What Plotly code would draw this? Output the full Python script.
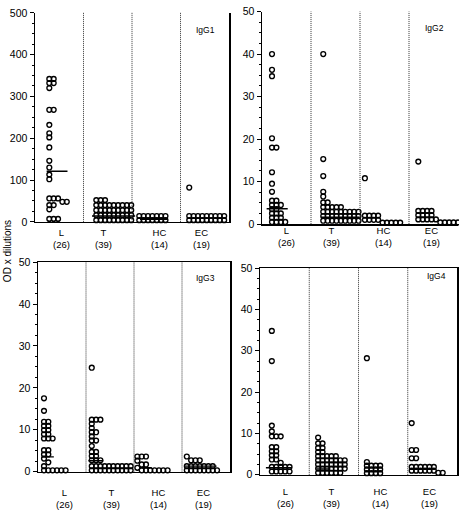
import plotly.graph_objects as go

# ---------------- data ----------------
GROUPS = ["L", "T", "HC", "EC"]
COUNTS = ["(26)", "(39)", "(14)", "(19)"]
PANELS = ["IgG1", "IgG2", "IgG3", "IgG4"]
Y_MAX = [500, 50, 50, 50]
Y_DTICK = [100, 10, 10, 10]

IGG1_L = [342, 342, 332, 332, 320, 268, 268, 232, 212, 202, 178, 146, 130, 113, 102,
          56, 56, 56, 48, 48, 40, 40, 30, 7, 7, 7]
IGG1_T = [52, 52, 52,
          40, 40, 40, 40, 40, 40, 40, 40, 40,
          28, 28, 28, 28, 28, 28, 28, 28, 28,
          16, 16, 16, 16, 16, 16, 16, 16, 16,
          4, 4, 4, 4, 4, 4, 4, 4, 4]
IGG1_HC = [14, 14, 14, 14, 14, 14, 14, 4, 4, 4, 4, 4, 4, 4]
IGG1_EC = [82, 14, 14, 14, 14, 14, 14, 14, 14, 14, 4, 4, 4, 4, 4, 4, 4, 4, 4]
IGG1_MED = [121, 14, 6, None]

IGG2_L = [40, 36.3, 34.8, 20.2, 18, 18, 12.2, 9.5, 7.6, 5.5, 5.5, 4.5, 4.5, 4.5,
          3.5, 3.5, 2.5, 2.5, 2.5, 1.5, 1.5, 1.5, 0.5, 0.5, 0.5, 0.5]
IGG2_T = [40, 15.3, 11.3, 7.6, 6.5, 5.1, 5.1, 4.0, 4.0, 4.0, 4.0, 4.0,
          2.9, 2.9, 2.9, 2.9, 2.9, 2.9, 2.9, 2.9, 2.9,
          1.9, 1.9, 1.9, 1.9, 1.9, 1.9, 1.9, 1.9, 1.9,
          0.8, 0.8, 0.8, 0.8, 0.8, 0.8, 0.8, 0.8, 0.8]
IGG2_HC = [10.8, 2.0, 2.0, 2.0, 2.0, 1.0, 1.0, 1.0, 1.0, 0.35, 0.35, 0.35, 0.35, 0.35]
IGG2_EC = [14.7, 3.1, 3.1, 3.1, 3.1, 2.1, 2.1, 2.1, 2.1, 1.1, 1.1, 1.1, 1.1, 1.1,
           0.4, 0.4, 0.4, 0.4, 0.4]
IGG2_MED = [3.6, 1.6, None, None]

IGG3_L = [17.5, 14.5, 11.9, 11.9, 10.9, 10.9, 9.9, 9.9, 8.9, 8.9, 7.9, 7.9, 7.9,
          5.1, 5.1, 4.1, 4.1, 3.1, 2.2, 1.3, 0.3, 0.3, 0.3, 0.3, 0.3, 0.3]
IGG3_T = [24.8, 12.4, 12.4, 12.4, 11.4, 10.4, 9.4, 9.4, 8.4, 7.4, 7.4, 6.1,
          4.7, 4.7, 3.7, 3.7, 2.7, 2.7, 2.7,
          1.3, 1.3, 1.3, 1.3, 1.3, 1.3, 1.3, 1.3, 1.3, 1.3,
          0.3, 0.3, 0.3, 0.3, 0.3, 0.3, 0.3, 0.3, 0.3, 0.3]
IGG3_HC = [3.6, 3.6, 3.6, 2.6, 1.7, 1.7, 0.9, 0.3, 0.3, 0.3, 0.3, 0.3, 0.3, 0.3]
IGG3_EC = [3.6, 2.7, 2.7, 2.7, 1.3, 1.3, 1.3, 1.3, 1.3, 1.3, 1.3,
           0.3, 0.3, 0.3, 0.3, 0.3, 0.3, 0.3, 0.3]
IGG3_MED = [3.5, 2.6, 0.9, 1.3]

IGG4_L = [34.8, 27.5, 11.9, 10.5, 9.3, 9.3, 9.3, 6.7, 6.7, 5.7, 5.7, 4.7, 4.7,
          3.7, 3.7, 2.9, 1.9, 1.9, 1.9, 1.9, 1.9, 0.8, 0.8, 0.8, 0.8, 0.8]
IGG4_T = [9.0, 7.6, 7.6, 6.5, 6.5, 5.5, 5.5, 4.5, 4.5, 4.5, 4.5, 4.5,
          3.5, 3.5, 3.5, 3.5, 3.5, 3.5, 3.5,
          2.5, 2.5, 2.5, 2.5, 2.5, 2.5, 2.5,
          1.5, 1.5, 1.5, 1.5, 1.5, 1.5, 1.5,
          0.5, 0.5, 0.5, 0.5, 0.5, 0.5]
IGG4_HC = [28.2, 3.1, 2.2, 2.2, 2.2, 2.2, 1.3, 1.3, 1.3, 1.3, 0.4, 0.4, 0.4, 0.4]
IGG4_EC = [12.5, 6.0, 6.0, 4.0, 4.0, 1.9, 1.9, 1.9, 1.9, 1.9, 1.9,
           1.0, 1.0, 1.0, 1.0, 1.0, 1.0, 0.5, 0.5]
IGG4_MED = [1.7, 1.4, None, None]

DATA = {
    "IgG1": [IGG1_L, IGG1_T, IGG1_HC, IGG1_EC],
    "IgG2": [IGG2_L, IGG2_T, IGG2_HC, IGG2_EC],
    "IgG3": [IGG3_L, IGG3_T, IGG3_HC, IGG3_EC],
    "IgG4": [IGG4_L, IGG4_T, IGG4_HC, IGG4_EC],
}
MEDIANS = {"IgG1": IGG1_MED, "IgG2": IGG2_MED, "IgG3": IGG3_MED, "IgG4": IGG4_MED}

# ---------------- layout / style ----------------
W, H = 459, 514
FONT = "Liberation Sans, Arial, Helvetica, sans-serif"
BOX = {  # left, right, top, bottom (px)
    "IgG1": (35, 229, 7, 221),
    "IgG2": (262, 458, 5.7, 223.3),
    "IgG3": (38, 230, 262.3, 476.7),
    "IgG4": (260, 457, 268.3, 480),
}
TOP_BORDER = {"IgG1": False, "IgG2": False, "IgG3": True, "IgG4": True}
RIGHT_BORDER = {"IgG1": True, "IgG2": False, "IgG3": True, "IgG4": True}
DOT_START = {
    "IgG1": [-0.205, -0.236, -0.35, -0.32],
    "IgG2": [-0.296, -0.25, -0.40, -0.31],
    "IgG3": [-0.375, -0.38, -0.43, -0.40],
    "IgG4": [-0.26, -0.32, -0.33, -0.42],
}
MED_START = {
    "IgG1": [-0.26, -0.325, -0.335, 0],
    "IgG2": [-0.405, -0.30, 0, 0],
    "IgG3": [-0.42, -0.45, -0.38, -0.44],
    "IgG4": [-0.38, -0.36, 0, 0],
}
MED_LEN = {
    "IgG1": [0.43, 0.89, 0.56, 0],
    "IgG2": [0.43, 0.80, 0, 0],
    "IgG3": [0.25, 0.31, 0.25, 0.66],
    "IgG4": [0.53, 0.29, 0, 0],
}
COLLIDE = {"IgG1": 9.5, "IgG2": 0.95, "IgG3": 0.95, "IgG4": 0.85}
COL_STEP = 0.09
LABEL_TOP = {"IgG1": 225, "IgG2": 223, "IgG3": 491, "IgG4": 490}
LABEL_DX = {
    "IgG1": [0.05, -0.08, 0.06, -0.06],
    "IgG2": [0.0, -0.08, -0.02, -0.04],
    "IgG3": [0.06, 0.03, 0.0, -0.06],
    "IgG4": [0.01, -0.05, -0.06, -0.05],
}
TITLE_POS = {"IgG1": (205, 25), "IgG2": (434, 23), "IgG3": (205, 278), "IgG4": (436, 276)}


def px(x):
    return x / W


def py(y):
    return 1 - y / H


def columns(values, thr):
    """Greedy dot-plot layout: highest values first, each dot goes in the
    leftmost column where it does not collide with an existing dot."""
    order = sorted(range(len(values)), key=lambda i: -values[i])
    cols, idx = [], [0] * len(values)
    for i in order:
        v = values[i]
        c = 0
        while True:
            if c >= len(cols):
                cols.append([])
            if all(abs(v - w) >= thr - 1e-9 for w in cols[c]):
                break
            c += 1
        cols[c].append(v)
        idx[i] = c
    return idx


fig = go.Figure()
annotations = []
shapes = []
lay = {}

for k, name in enumerate(PANELS):
    sfx = "" if k == 0 else str(k + 1)
    xa, ya = "x" + sfx, "y" + sfx
    l, r, t, b = BOX[name]
    lay["xaxis" + sfx] = dict(
        domain=[px(l), px(r)], anchor=ya, range=[-0.5, 3.5],
        showline=True, linecolor="black", linewidth=1.5,
        mirror=TOP_BORDER[name], showticklabels=False, ticks="",
        showgrid=False, zeroline=False, fixedrange=True)
    lay["yaxis" + sfx] = dict(
        domain=[py(b), py(t)], anchor=xa, range=[0, Y_MAX[k]],
        showline=True, linecolor="black", linewidth=1.5,
        mirror=RIGHT_BORDER[name], ticks="outside", ticklen=4, tickwidth=1,
        tickcolor="black", dtick=Y_DTICK[k],
        minor=dict(dtick=Y_DTICK[k] / 4, ticks="outside", ticklen=2,
                   tickcolor="black", tickwidth=1),
        tickfont=dict(family=FONT, size=10.5, color="black"),
        showgrid=False, zeroline=False, fixedrange=True)

    # dividers between groups
    for d in (0.5, 1.5, 2.5):
        shapes.append(dict(type="line", xref=xa, yref=ya + " domain",
                           x0=d, x1=d, y0=0, y1=1,
                           line=dict(color="#333", width=1, dash="1px,1px")))

    for g, vals in enumerate(DATA[name]):
        cidx = columns(vals, COLLIDE[name])
        xs = [g + DOT_START[name][g] + c * COL_STEP for c in cidx]
        fig.add_trace(go.Scatter(
            x=xs, y=vals, xaxis=xa, yaxis=ya, mode="markers",
            cliponaxis=False, showlegend=False, hoverinfo="skip",
            marker=dict(symbol="circle-open", size=4.8, color="black",
                        line=dict(width=1.4, color="black"))))
        med = MEDIANS[name][g]
        if med is not None:
            x0 = g + MED_START[name][g]
            fig.add_trace(go.Scatter(
                x=[x0, x0 + MED_LEN[name][g]], y=[med, med], xaxis=xa, yaxis=ya,
                mode="lines", cliponaxis=False, showlegend=False, hoverinfo="skip",
                line=dict(color="black", width=1.4)))

        # group labels (name above, count below)
        annotations.append(dict(text=GROUPS[g] + "<br>" + COUNTS[g], xref=xa, yref="paper",
                                x=g + LABEL_DX[name][g], y=py(LABEL_TOP[name]),
                                showarrow=False, xanchor="center", yanchor="top",
                                borderpad=0,
                                font=dict(family=FONT, size=9.5, color="black")))

    tx, ty = TITLE_POS[name]
    annotations.append(dict(text=name, xref="paper", yref="paper", x=px(tx), y=py(ty),
                            showarrow=False, xanchor="center", yanchor="middle",
                            font=dict(family=FONT, size=8.5, color="black")))

annotations.append(dict(text="OD x dilutions", xref="paper", yref="paper",
                        x=px(7), y=py(251), textangle=-90, showarrow=False,
                        xanchor="center", yanchor="middle",
                        font=dict(family=FONT, size=10, color="black")))

fig.update_layout(
    width=W, height=H, margin=dict(l=0, r=0, t=0, b=0),
    paper_bgcolor="white", plot_bgcolor="white",
    annotations=annotations, shapes=shapes, **lay)

fig.write_html(
    "out.html",
    config={"displayModeBar": False, "staticPlot": True},
    post_script="document.body.style.margin='0px';document.body.style.padding='0px';"
                "document.body.style.overflow='hidden';")
